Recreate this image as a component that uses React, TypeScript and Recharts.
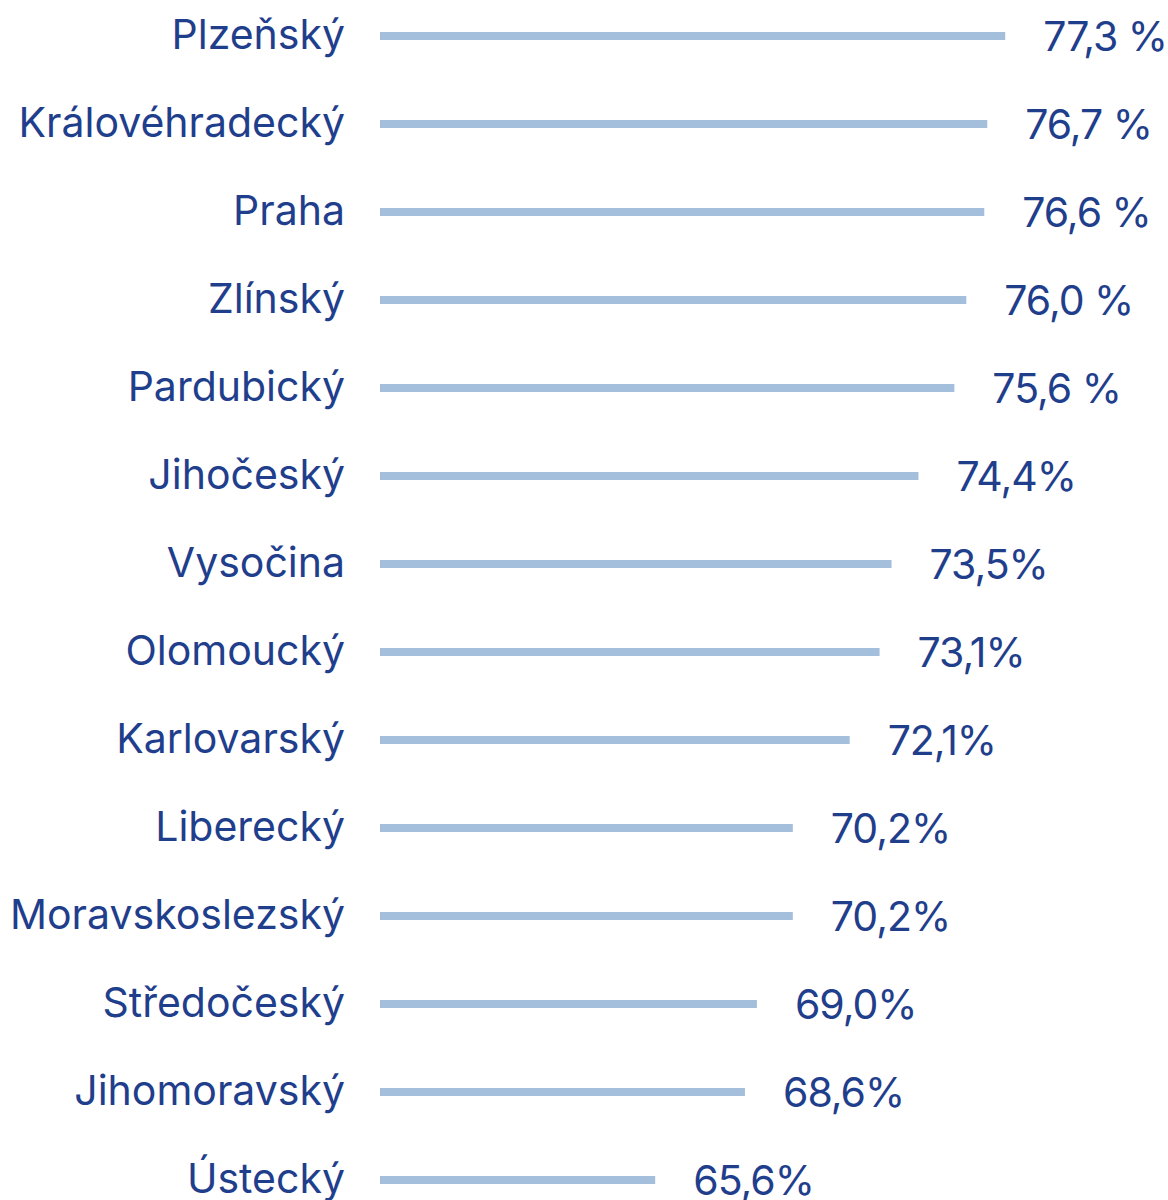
import { BarChart, Bar, XAxis, YAxis, LabelList } from "recharts";

const regions = [
  "Plzeňský",
  "Královéhradecký",
  "Praha",
  "Zlínský",
  "Pardubický",
  "Jihočeský",
  "Vysočina",
  "Olomoucký",
  "Karlovarský",
  "Liberecký",
  "Moravskoslezský",
  "Středočeský",
  "Jihomoravský",
  "Ústecký",
];
const shares = [77.3, 76.7, 76.6, 76.0, 75.6, 74.4, 73.5, 73.1, 72.1, 70.2, 70.2, 69.0, 68.6, 65.6];
const shareLabels = [
  "77,3 %",
  "76,7 %",
  "76,6 %",
  "76,0 %",
  "75,6 %",
  "74,4%",
  "73,5%",
  "73,1%",
  "72,1%",
  "70,2%",
  "70,2%",
  "69,0%",
  "68,6%",
  "65,6%",
];

const data = regions.map((name, i) => ({ name, value: shares[i], label: shareLabels[i] }));

const TEXT = "#1f3e8c";
const BAR = "#a3bfdc";
const FONT = "Inter, 'Noto Sans', sans-serif";

const RegionTick = ({ x, y, payload }: any) => (
  <text
    x={x - 27}
    y={y - 2}
    textAnchor="end"
    dominantBaseline="central"
    fill={TEXT}
    fontSize={41}
    fontFamily={FONT}
  >
    {payload.value}
  </text>
);

const ValueLabel = ({ x, y, width, height, index }: any) => (
  <text
    x={x + width + 38}
    y={y + height / 2}
    dominantBaseline="central"
    fill={TEXT}
    fontSize={41}
    letterSpacing={-1}
    fontFamily={FONT}
  >
    {data[index].label}
  </text>
);

export default function App() {
  return (
    <div style={{ position: "absolute", top: -8, left: 0 }}>
      <BarChart
        width={1168}
        height={1232}
        data={data}
        layout="vertical"
        margin={{ top: 0, right: 88, bottom: 0, left: 0 }}
      >
        <XAxis type="number" domain={[56.4, 79.8]} hide allowDataOverflow />
        <YAxis
          type="category"
          dataKey="name"
          width={380}
          axisLine={false}
          tickLine={false}
          interval={0}
          tick={<RegionTick />}
        />
        <Bar dataKey="value" fill={BAR} barSize={8} isAnimationActive={false}>
          <LabelList dataKey="value" content={<ValueLabel />} />
        </Bar>
      </BarChart>
    </div>
  );
}
